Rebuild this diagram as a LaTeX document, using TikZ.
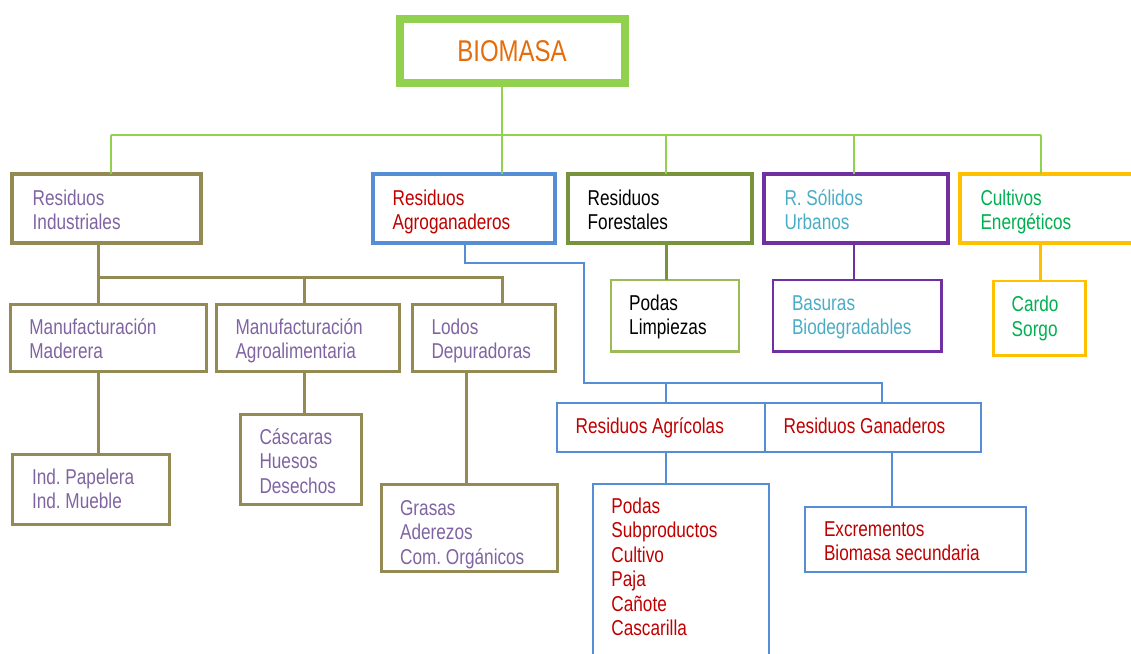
\documentclass[tikz,border=0pt]{standalone}
\usepackage{fontspec}
\newfontfamily\dfont[FakeStretch=0.8]{Liberation Sans}
\definecolor{bioGreen}{HTML}{92D050}
\definecolor{bioOrange}{HTML}{E46C0A}
\definecolor{oliveB}{HTML}{948A54}
\definecolor{purpText}{HTML}{8064A2}
\definecolor{blueB}{HTML}{558ED5}
\definecolor{redT}{HTML}{C00000}
\definecolor{forestB}{HTML}{77933C}
\definecolor{forestL}{HTML}{9BBB59}
\definecolor{purpB}{HTML}{7030A0}
\definecolor{cyanT}{HTML}{4BACC6}
\definecolor{goldB}{HTML}{FFC000}
\definecolor{greenT}{HTML}{00B050}
\newcommand\mkbox[6]{\node[boxs,#6,minimum width={#4-#2},minimum height={#5-#3}] (#1) at (#2,#3) {};}
\begin{document}
\frenchspacing
\begin{tikzpicture}[x=1pt,y=-1pt,
  boxs/.style={draw, inner sep=0pt, outer sep=0pt, anchor=north west},
  txt/.style={font=\dfont\frenchspacing\fontsize{21.5}{24.5}\selectfont, text width=240pt, align=flush left, inner sep=0pt, anchor=base west},
  gline/.style={draw=bioGreen, line width=2pt},
  oline/.style={draw=oliveB, line width=3pt},
  bline/.style={draw=blueB, line width=2pt}]
\useasboundingbox (0,0) rectangle (1131,653);
\clip (0,0) rectangle (1131,653);
% boxes
\mkbox{bio}{400}{19}{624.6}{83.3}{draw=bioGreen, line width=8pt}
\mkbox{ind}{12.2}{173.7}{201}{243}{draw=oliveB, line width=4pt}
\mkbox{agro}{372.6}{173.7}{555}{243}{draw=blueB, line width=4pt}
\mkbox{fore}{568.4}{173.7}{751.7}{243}{draw=forestB, line width=4pt}
\mkbox{sol}{764.4}{173.7}{948}{243}{draw=purpB, line width=4pt}
\mkbox{cult}{960.4}{173.7}{1150}{243}{draw=goldB, line width=4pt}
\mkbox{mad}{10.7}{304.2}{206.8}{371.2}{draw=oliveB, line width=3pt}
\mkbox{alim}{216.8}{304.2}{399.2}{371.2}{draw=oliveB, line width=3pt}
\mkbox{lod}{412.9}{304.2}{555.3}{371.2}{draw=oliveB, line width=3pt}
\mkbox{pap}{12.6}{454.2}{169.1}{524.2}{draw=oliveB, line width=3pt}
\mkbox{cas}{240.9}{414.8}{361.1}{504.5}{draw=oliveB, line width=3pt}
\mkbox{gra}{381.5}{484.2}{557.1}{571.8}{draw=oliveB, line width=3pt}
\mkbox{pod}{611}{280.2}{739.2}{351.5}{draw=forestL, line width=2.5pt}
\mkbox{bas}{773}{280.2}{941.4}{351.5}{draw=purpB, line width=2.5pt}
\mkbox{car}{993.5}{281.2}{1085.3}{355.5}{draw=goldB, line width=2.5pt}
\mkbox{agri}{556.8}{402.7}{769}{452.3}{draw=blueB, line width=2pt}
\mkbox{gan}{765.3}{402.7}{981}{452.3}{draw=blueB, line width=2pt, fill=white}
\mkbox{lst}{592.6}{484.3}{769}{680}{draw=blueB, line width=2pt}
\mkbox{exc}{804.9}{506.7}{1026}{572.3}{draw=blueB, line width=2pt}
% green connectors
\coordinate (g0) at (502,135);
\coordinate (g1) at (111,135);
\coordinate (g3) at (666.3,135);
\coordinate (g4) at (854,135);
\coordinate (g5) at (1040.6,135);
\draw[gline] (g0 |- bio.south) -- (g0);
\draw[gline] (g1) -- (g5);
\draw[gline] (g1) -- (g1 |- ind.north);
\draw[gline] (g0) -- (g0 |- agro.north);
\draw[gline] (g3) -- (g3 |- fore.north);
\draw[gline] (g4) -- (g4 |- sol.north);
\draw[gline] (g5) -- (g5 |- cult.north);
% olive connectors
\coordinate (o1) at (98,277.3);
\coordinate (o2) at (304,277.3);
\coordinate (o3) at (502,277.3);
\draw[oline] (o1 |- ind.south) -- (o1) -- (o3) -- (o3 |- lod.north);
\draw[oline] (o1) -- (o1 |- mad.north);
\draw[oline] (o2) -- (o2 |- alim.north);
\coordinate (o4) at (98,400);
\coordinate (o5) at (304,400);
\coordinate (o6) at (466,400);
\draw[oline] (o4 |- mad.south) -- (o4 |- pap.north);
\draw[oline] (o5 |- alim.south) -- (o5 |- cas.north);
\draw[oline] (o6 |- lod.south) -- (o6 |- gra.north);
% other top-level drops
\draw[draw=forestB, line width=2.5pt] (g3 |- fore.south) -- (g3 |- pod.north);
\draw[draw=purpB, line width=2.5pt] (g4 |- sol.south) -- (g4 |- bas.north);
\draw[draw=goldB, line width=2.5pt] (g5 |- cult.south) -- (g5 |- car.north);
% blue connectors
\coordinate (b1) at (465,263);
\coordinate (b2) at (583.7,263);
\coordinate (b3) at (583.7,383.3);
\coordinate (b4) at (666.3,383.3);
\coordinate (b5) at (882.3,383.3);
\coordinate (b6) at (892.4,470);
\draw[bline] (b1 |- agro.south) -- (b1) -- (b2) -- (b3) -- (b5) -- (b5 |- gan.north);
\draw[bline] (b4) -- (b4 |- agri.north);
\draw[bline] (b4 |- agri.south) -- (b4 |- lst.north);
\draw[bline] (b6 |- gan.south) -- (b6 |- exc.north);
% texts
\node[font=\dfont\fontsize{30}{34}\selectfont, text=bioOrange, anchor=base, inner sep=0pt] (tbio) at (512,61.7) {BIOMASA};
\node[txt, text=purpText] (tind) at (32.5,205) {Residuos\\Industriales};
\node[txt, text=redT] (tagro) at (392.5,205) {Residuos\\Agroganaderos};
\node[txt, text=black] (tfore) at (587.5,205) {Residuos\\Forestales};
\node[txt, text=cyanT] (tsol) at (784.3,205) {R. Sólidos\\Urbanos};
\node[txt, text=greenT] (tcult) at (980.3,205) {Cultivos\\Energéticos};
\node[txt, text=purpText] (tmad) at (29.2,334) {Manufacturación\\Maderera};
\node[txt, text=purpText] (talim) at (235.3,334) {Manufacturación\\Agroalimentaria};
\node[txt, text=purpText] (tlod) at (431.3,334) {Lodos\\Depuradoras};
\node[txt, text=purpText] (tpap) at (31.8,484) {Ind. Papelera\\Ind. Mueble};
\node[txt, text=purpText] (tcas) at (259.3,444) {Cáscaras\\Huesos\\Desechos};
\node[txt, text=purpText] (tgra) at (399.9,515) {Grasas\\Aderezos\\Com. Orgánicos};
\node[txt, text=black] (tpod) at (629,310) {Podas\\Limpiezas};
\node[txt, text=cyanT] (tbas) at (791.8,310) {Basuras\\Biodegradables};
\node[txt, text=greenT] (tcar) at (1011.5,311.7) {Cardo\\Sorgo};
\node[txt, text=redT] (tagri) at (575.5,433.3) {Residuos Agrícolas};
\node[txt, text=redT] (tgan) at (783.5,433.3) {Residuos Ganaderos};
\node[txt, text=redT] (tlst) at (611.2,513.3) {Podas\\Subproductos\\Cultivo\\Paja\\Cañote\\Cascarilla};
\node[txt, text=redT] (texc) at (823.8,536) {Excrementos\\Biomasa secundaria};
\end{tikzpicture}
\end{document}
